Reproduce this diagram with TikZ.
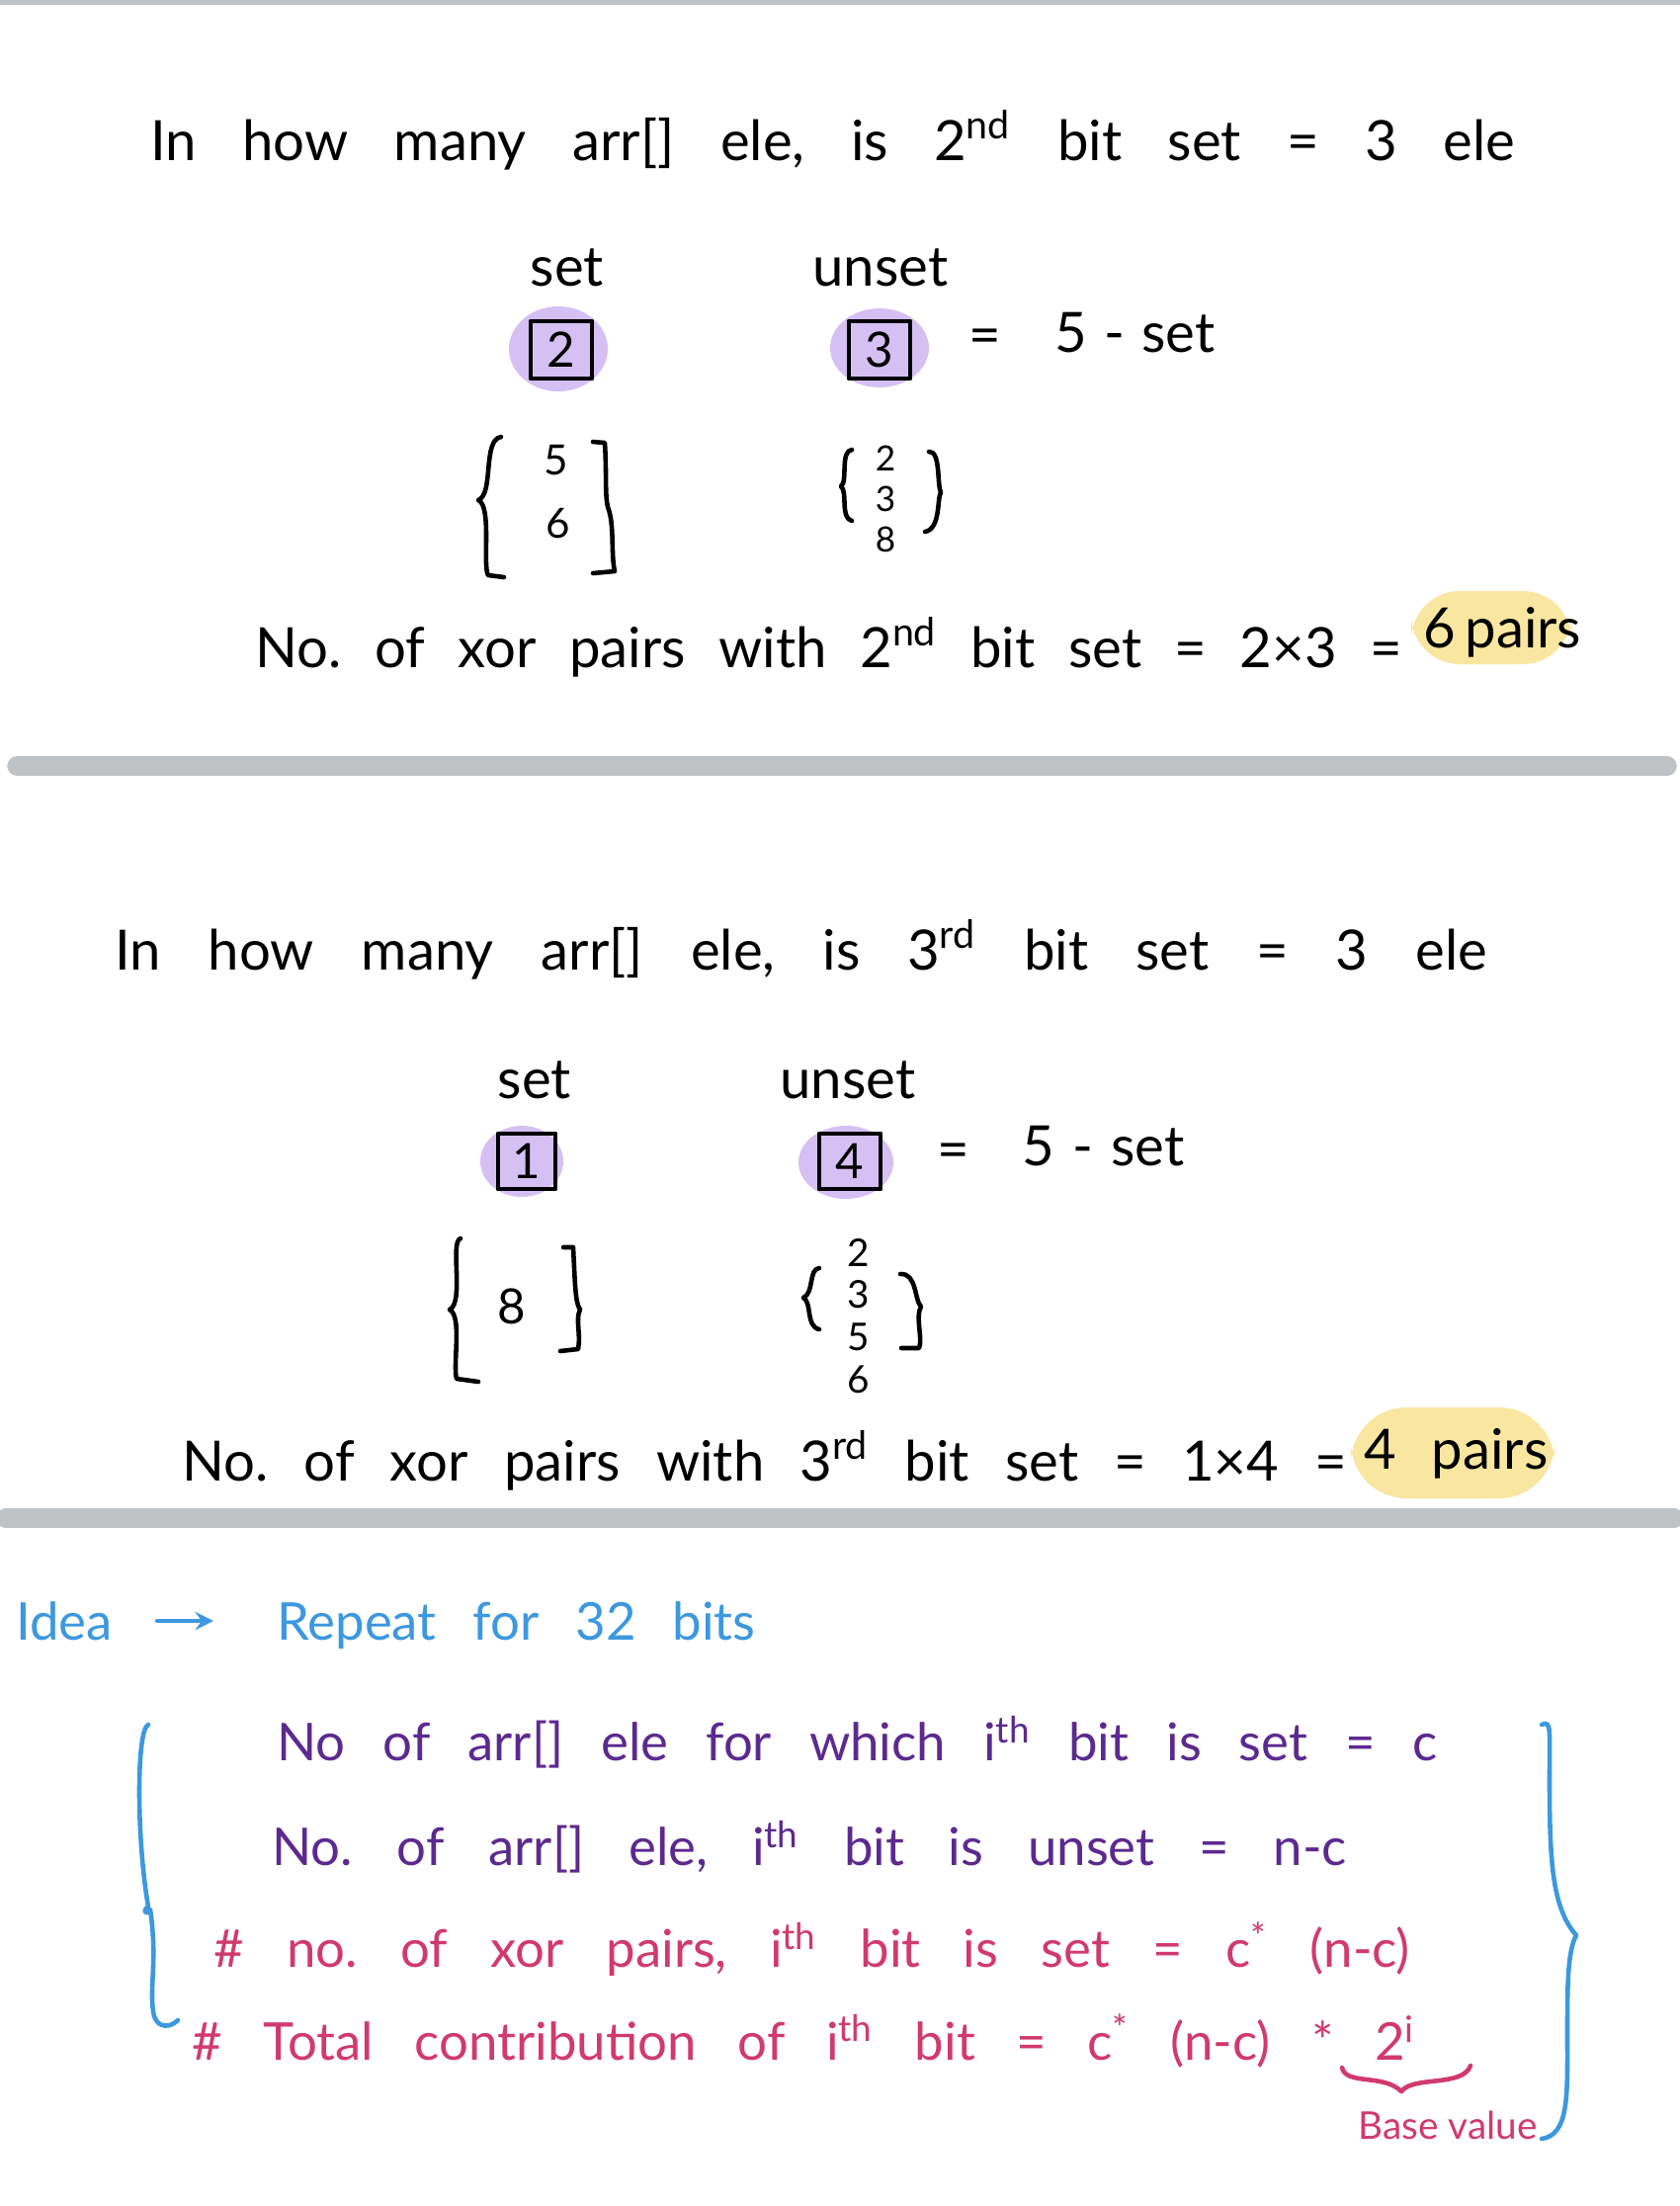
\documentclass[tikz,border=0pt]{standalone}
\usepackage{fontspec}
\setmainfont{Lato}
\usetikzlibrary{positioning}
\definecolor{rulegray}{HTML}{BFC3C6}
\definecolor{lilac}{HTML}{D5C0F4}
\definecolor{butter}{HTML}{F9E6A0}
\definecolor{inkpurple}{HTML}{5C2A8F}
\definecolor{inkpink}{HTML}{D13A6C}
\definecolor{inkblue}{HTML}{3C98DF}
\newcommand{\spread}[2]{\makebox[#1][s]{#2}}
\frenchspacing
\tikzset{
  hand/.style={anchor=west,inner sep=0pt,font=\fontsize{16}{19}\selectfont},
  note/.style={hand,font=\fontsize{15}{18}\selectfont},
  head/.style={inner sep=0pt,font=\fontsize{16}{19}\selectfont},
  digit/.style={inner sep=0pt,font=\fontsize{11}{13}\selectfont},
  bitbox/.style={draw,line width=1.4pt,inner sep=0pt,minimum width=0.62cm,minimum height=0.58cm,font=\fontsize{14}{16}\selectfont},
  bar/.style={rulegray,line width=5.5pt,line cap=round},
}
\begin{document}
\frenchspacing
\begin{tikzpicture}[x=0.01cm,y=-0.01cm,line width=1.3pt,line cap=round,line join=round]
\useasboundingbox (0,0) rectangle (1700,2232);
\draw[rulegray,line width=3pt] (0,0)--(1700,0);
\node[hand] (q1) at (150,142) {\spread{13.8cm}{In how many arr[] ele, is 2\textsuperscript{nd} bit set = 3 ele}};
\node[head] (set1) at (574,271) {set};
\node[head] (unset1) at (891,271) {unset};
\fill[lilac] (565,353) ellipse [x radius=50,y radius=43];
\fill[lilac] (890,352) ellipse [x radius=50,y radius=40];
\node[bitbox] (b2) at (568,354) {2};
\node[bitbox] (b3) at (890,354) {3};
\node[head] (eq1) at (997,346) {=};
\node[hand] (rest1) at (1065,337) {\spread{1.62cm}{5 - set}};
\node[digit,font=\fontsize{12}{14}\selectfont] (s5) at (563,466) {5};
\node[digit,font=\fontsize{12}{14}\selectfont] (s6) at (565,530) {6};
\draw (507,442) .. controls (488,445) and (500,500) .. (484,506) .. controls (498,512) and (488,572) .. (494,582) -- (510,584);
\draw (600,447) -- (612,448) .. controls (614,480) and (612,500) .. (615,513) .. controls (622,530) and (618,560) .. (622,578) -- (600,580);
\foreach \d [count=\k] in {2,3,8}{\node[digit,font=\fontsize{10}{12}\selectfont] (u\k) at (896,{464+41*(\k-1)}) {\d};}
\draw (862,455) .. controls (850,456) and (858,488) .. (851,492) .. controls (858,498) and (850,524) .. (862,527);
\draw (940,457) .. controls (952,456) and (948,490) .. (952,498) .. controls (948,505) and (952,535) .. (936,538);
\fill[butter,rounded corners=14pt] (1428,598) rectangle (1590,672);
\node[hand] (r1) at (256,655) {\spread{11.6cm}{No. of xor pairs with 2\textsuperscript{nd} bit set = 2×3 =}};
\node[hand] (p1) at (1438,640) {\spread{1.48cm}{6 pairs}};
\draw[bar] (17,775) -- (1687,775);
\node[hand] (q2) at (114,961) {\spread{13.88cm}{In how many arr[] ele, is 3\textsuperscript{rd} bit set = 3 ele}};
\node[head] (set2) at (541,1093) {set};
\node[head] (unset2) at (858,1093) {unset};
\fill[lilac] (528,1175) ellipse [x radius=42,y radius=36];
\fill[lilac] (856,1176) ellipse [x radius=48,y radius=37];
\node[bitbox,minimum width=0.58cm,minimum height=0.56cm] (b1) at (533,1175) {1};
\node[bitbox,minimum width=0.62cm,minimum height=0.56cm] (b4) at (860,1175) {4};
\node[head] (eq2) at (965,1170) {=};
\node[hand] (rest2) at (1032,1160) {\spread{1.64cm}{5 - set}};
\node[digit,font=\fontsize{14}{16}\selectfont] (s8) at (518,1322) {8};
\draw (466,1253) .. controls (455,1256) and (470,1318) .. (455,1325) .. controls (468,1332) and (458,1380) .. (462,1395) -- (484,1398);
\draw (570,1262) -- (580,1262) .. controls (582,1300) and (582,1318) .. (587,1325) .. controls (582,1335) and (588,1350) .. (585,1365) -- (567,1367);
\foreach \d [count=\k] in {2,3,5,6}{\node[digit] (v\k) at (869,{1267+43*(\k-1)}) {\d};}
\draw (829,1283) .. controls (818,1284) and (824,1308) .. (813,1313) .. controls (822,1318) and (815,1342) .. (829,1345);
\draw (911,1289) .. controls (928,1288) and (925,1315) .. (932,1322) .. controls (926,1332) and (934,1355) .. (930,1364) -- (912,1364);
\fill[butter,rounded corners=16pt] (1367,1424) rectangle (1573,1516);
\node[hand] (r2) at (182,1478) {\spread{11.78cm}{No. of xor pairs with 3\textsuperscript{rd} bit set = 1×4 =}};
\node[hand] (p2) at (1378,1471) {\spread{1.86cm}{4 pairs}};
\draw[bar] (6,1536) -- (1694,1536);
\node[note,inkblue] (idea) at (14,1640) {Idea};
\node[note,inkblue] (repeat) at (278,1645) {\spread{4.84cm}{Repeat for 32 bits}};
\draw[inkblue,-stealth,shorten <=0.43cm,shorten >=0.62cm] (idea.east) -- (idea.east -| repeat.west);
\draw[inkblue] (150,1745) .. controls (138,1750) and (138,1860) .. (150,1929) .. controls (142,1935) and (150,1938) .. (152,1932) .. controls (160,1985) and (150,2015) .. (156,2040) .. controls (160,2052) and (172,2052) .. (180,2044);
\draw[inkblue] (1560,1745) .. controls (1570,1740) and (1568,1750) .. (1568,1800) .. controls (1568,1880) and (1570,1930) .. (1595,1958) .. controls (1586,1975) and (1586,2010) .. (1586,2060) .. controls (1586,2120) and (1588,2160) .. (1560,2164);
\node[note,inkpurple] (l1) at (278,1763) {\spread{11.74cm}{No of arr[] ele for which i\textsuperscript{th} bit is set = c}};
\node[note,inkpurple] (l2) at (273,1869) {\spread{10.87cm}{No. of arr[] ele, i\textsuperscript{th} bit is unset = n-c}};
\node[note,inkpink] (l3) at (214,1972) {\spread{12.1cm}{\# no. of xor pairs, i\textsuperscript{th} bit is set = c\textsuperscript{*} (n-c)}};
\node[note,inkpink] (l4) at (192,2065) {\spread{11.55cm}{\# Total contribution of i\textsuperscript{th} bit = c\textsuperscript{*} (n-c) *}};
\node[note,inkpink,anchor=center] (pow) at (1412,2062) {2\textsuperscript{i}};
\draw[inkpink] (1358,2092) .. controls (1362,2110) and (1400,2098) .. (1418,2116) .. controls (1430,2100) and (1480,2112) .. (1488,2090);
\node[inkpink,inner sep=0pt,font=\fontsize{11}{13}\selectfont] (base) at (1465,2150) {Base value};
\end{tikzpicture}
\end{document}
